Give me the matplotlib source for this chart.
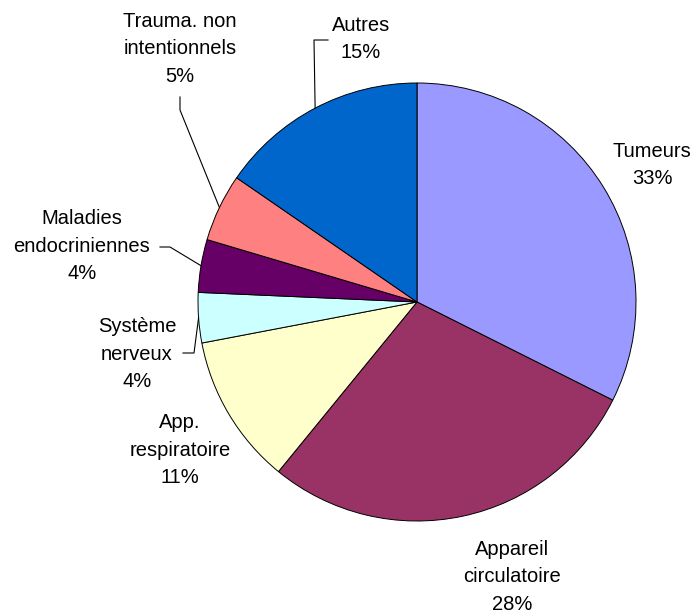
import numpy as np
import matplotlib
matplotlib.use("Agg")
import matplotlib.pyplot as plt

categories = ["Tumeurs", "Appareil\ncirculatoire", "App.\nrespiratoire", "Système\nnerveux",
              "Maladies\nendocriniennes", "Trauma. non\nintentionnels", "Autres"]
values = [32.4, 28.5, 11.1, 3.7, 3.9, 5.0, 15.4]
pct_labels = ["33%", "28%", "11%", "4%", "4%", "5%", "15%"]
colors = ["#9999FF", "#993366", "#FFFFCC", "#CCFFFF", "#660066", "#FF8080", "#0066CC"]

W, H = 694, 614
fig = plt.figure(figsize=(W / 100, H / 100), dpi=100)
ax = fig.add_axes([0, 0, 1, 1])

cx, cy, R = 417, H - 302, 219
wedges, _ = ax.pie(values, colors=colors, startangle=90, counterclock=False,
                   center=(cx, cy), radius=R,
                   wedgeprops=dict(edgecolor="black", linewidth=0.7))
ax.set_xlim(0, W)
ax.set_ylim(0, H)
ax.set_aspect("equal")
ax.axis("off")

# label centres (pixels from top-left)
label_pos = [(652, 165), (512, 577), (180, 450), (137, 354), (82, 246), (180, 49), (361, 39)]
# leader line elbows (pixels from top-left), None = no leader
elbows = [None, None, None, [(194, 353), (183, 353)], [(170, 247), (160, 247)],
          [(180, 110), (180, 97)], [(314, 40), (328, 40)]]

for i, (w, lab, pct) in enumerate(zip(wedges, categories, pct_labels)):
    lx, ly = label_pos[i]
    ax.text(lx, H - ly, lab + "\n" + pct, ha="center", va="center", fontsize=14.5,
            family="Liberation Sans", linespacing=1.56, color="black")
    if elbows[i] is not None:
        ang = np.deg2rad((w.theta1 + w.theta2) / 2)
        sx, sy = cx + R * np.cos(ang), cy + R * np.sin(ang)
        xs = [sx] + [p[0] for p in elbows[i]]
        ys = [sy] + [H - p[1] for p in elbows[i]]
        ax.plot(xs, ys, color="black", linewidth=0.8)

fig.savefig("out.png", dpi=100, facecolor="white")
